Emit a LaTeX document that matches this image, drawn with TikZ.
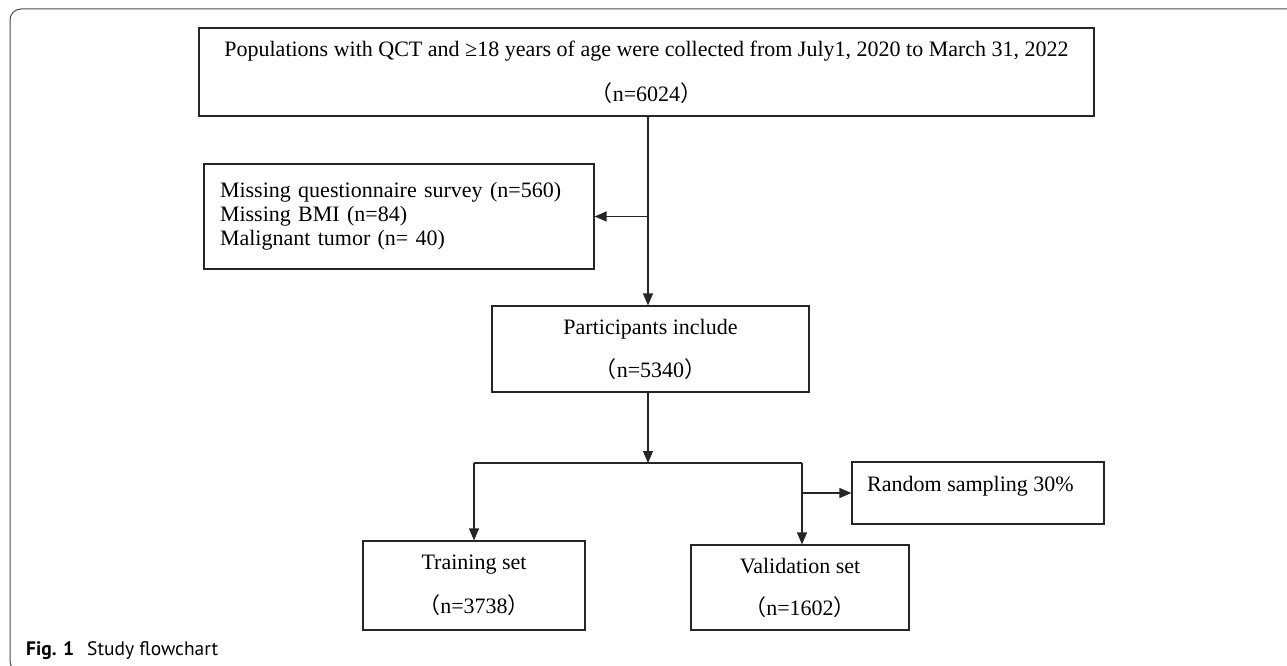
\documentclass[tikz,border=0pt]{standalone}
\usepackage{fontspec}
\setmainfont{Liberation Serif}
\newfontfamily\cjkfont{Noto Sans CJK SC}
\newfontfamily\capfont{PT Sans}
\usetikzlibrary{arrows.meta}
\newcommand\fwl{{\cjkfont （}}
\newcommand\fwr{{\cjkfont ）}}
\begin{document}
\begin{tikzpicture}[x=1pt,y=-1pt,
  box/.style={draw=black!85, line width=1.2pt, inner sep=0pt, align=center,
    font=\fontsize{22}{44}\selectfont},
  txt/.style={inner sep=0pt, font=\fontsize{22}{24}\selectfont},
  arr/.style={draw=black!85, line width=1.2pt, -{Triangle[length=12pt,width=10pt]}},
  ln/.style={draw=black!85, line width=1.2pt}]
\useasboundingbox (0,0) rectangle (1287,666);
\clip (0,0) rectangle (1287,666);
\draw[black!70, line width=1pt, rounded corners=11pt] (1300,9) -- (10,9) -- (10,672) -- (1300,672);

\node[box, minimum width=895pt, minimum height=88pt, font=\fontsize{22}{45}\selectfont] (top) at (646.5,72)
  {Populations with QCT and ≥18 years of age were collected from July1, 2020 to March 31, 2022\\ \fwl n=6024\fwr};
\node[box, minimum width=390pt, minimum height=105pt, align=left, text width=358pt, inner xsep=16pt,
  font=\fontsize{22}{24}\selectfont] (miss) at (399,216.5)
  {Missing questionnaire survey (n=560)\\ Missing BMI (n=84)\\ Malignant tumor (n= 40)};
\node[box, minimum width=317pt, minimum height=86pt, font=\fontsize{22}{43}\selectfont] (part) at (650.5,349)
  {Participants include\\ \fwl n=5340\fwr};
\node[box, minimum width=222pt, minimum height=89pt] (train) at (474,585.5)
  {Training set\\ \fwl n=3738\fwr};
\node[box, minimum width=218pt, minimum height=85pt, font=\fontsize{22}{42}\selectfont] (val) at (800,587.5)
  {Validation set\\ \fwl n=1602\fwr};
\node[box, minimum width=252pt, minimum height=62pt] (rand) at (978,493) {};
\node[txt, anchor=west] (randtxt) at (867,486) {Random sampling 30\%};

\coordinate (tr) at (648,0);
\coordinate (vx) at (802,0);
\coordinate (split) at (648,463);
\draw[arr] (tr |- top.south) -- (tr |- part.north);
\draw[arr] (tr |- miss.east) -- (miss.east);
\draw[arr] (tr |- part.south) -- (split);
\draw[ln] (train.north |- split) -- (vx |- split);
\draw[arr] (train.north |- split) -- (train.north);
\draw[arr] (vx |- split) -- (vx |- val.north);
\draw[arr] (vx |- rand.west) -- (rand.west);

\node[anchor=base west, inner sep=0pt, font=\capfont\fontsize{19.5}{21}\selectfont] (cap) at (26,655)
  {\textbf{Fig. 1}\hspace{13pt}Study flowchart};
\end{tikzpicture}
\end{document}
